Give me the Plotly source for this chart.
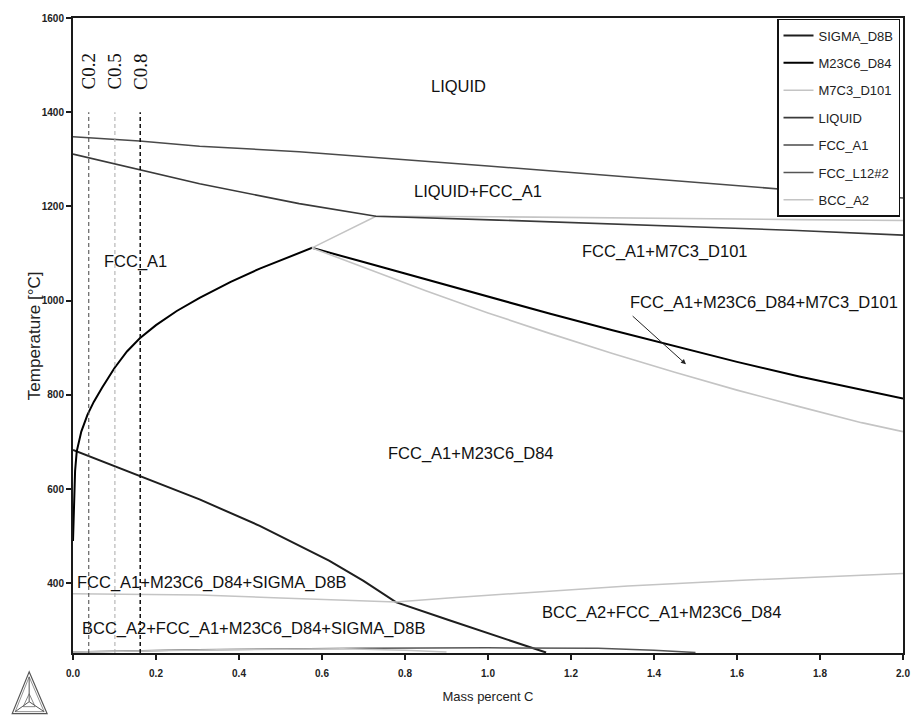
import plotly.graph_objects as go

# ---- Phase boundaries: mass percent C vs temperature (°C) ----
# FCC_A1 appearing from the liquid (upper liquidus)
fcc_x = [0.0, 0.16, 0.305, 0.545, 1.0, 1.5, 1.745, 2.0]
fcc_T = [1348, 1339, 1328, 1316, 1286, 1251, 1234, 1218]

# Liquid disappearing (solidus and its continuation)
liquid_x = [0.0, 0.16, 0.305, 0.545, 0.73, 1.025, 1.5, 1.745, 2.0]
liquid_T = [1311, 1278, 1248, 1206, 1179, 1171, 1157, 1149, 1139]

# M7C3 boundaries: lower solvus from the right, up to the peak, then the upper branch
m7c3_x = [2.0, 1.9, 1.75, 1.6, 1.45, 1.3, 1.15, 1.0, 0.85, 0.7, 0.576,
          0.73, 1.025, 1.745, 2.0]
m7c3_T = [722, 741, 775, 810, 848, 888, 930, 974, 1021, 1070, 1112,
          1179, 1178, 1172, 1170]

# M23C6 solvus curve and its high-carbon branch
m23c6_x = [0.0, 0.002, 0.005, 0.009, 0.02, 0.035, 0.05, 0.07, 0.1, 0.13,
           0.161, 0.2, 0.25, 0.305, 0.38, 0.45, 0.52, 0.576,
           0.7, 0.85, 1.0, 1.15, 1.3, 1.45, 1.6, 1.75, 1.9, 2.0]
m23c6_T = [490, 570, 638, 680, 722, 758, 785, 815, 857, 892,
           920, 948, 978, 1006, 1040, 1068, 1092, 1112,
           1082, 1045, 1008, 972, 937, 903, 870, 839, 811, 792]

# Sigma phase boundary
sigma_x = [0.0, 0.15, 0.305, 0.45, 0.55, 0.617, 0.7, 0.778, 0.905, 0.977, 1.14]
sigma_T = [683, 632, 578, 522, 478, 448, 405, 360, 322, 301, 253]

# BCC_A2 boundary
bcc_x = [0.0, 0.305, 0.5, 0.778, 0.905, 1.1, 1.337, 1.6, 2.0]
bcc_T = [378, 375, 369, 360, 369, 380, 394, 406, 421]
bcc_low_x = [0.0, 0.35, 0.65, 0.8, 0.9]
bcc_low_T = [254, 259, 261, 258, 254]

# FCC_L12#2 boundary near the bottom of the range
l12_x = [0.0, 0.3, 0.7, 1.0, 1.265, 1.4, 1.5]
l12_T = [254, 259, 262, 263, 262, 258, 253]

# Alloy compositions marked by vertical dashed lines
alloy_x = [0.038, 0.101, 0.162]
alloy_labels = ["C0.2", "C0.5", "C0.8"]
alloy_T_top = 1400
alloy_label_T = 1486

# Phase-region labels
region_labels = ["LIQUID", "LIQUID+FCC_A1", "FCC_A1", "FCC_A1+M7C3_D101",
                 "FCC_A1+M23C6_D84+M7C3_D101", "FCC_A1+M23C6_D84",
                 "FCC_A1+M23C6_D84+SIGMA_D8B", "BCC_A2+FCC_A1+M23C6_D84+SIGMA_D8B",
                 "BCC_A2+FCC_A1+M23C6_D84"]
region_x = [0.929, 0.975, 0.151, 1.426, 1.666, 0.96, 0.334, 0.435, 1.417]
region_T = [1455, 1232, 1084, 1105, 996, 676, 402, 303, 339]

# Arrow pointing into the narrow three-phase field
arrow_tail = (1.345, 970)
arrow_head = (1.477, 865)

T_MIN, T_MAX = 252, 1600
X_MIN, X_MAX = 0.0, 2.0

SANS = "Liberation Sans, Arial, sans-serif"

fig = go.Figure()

def add_phase(name, xs, ys, color, width, rank):
    fig.add_trace(go.Scatter(
        x=xs, y=ys, mode="lines", name=name,
        line=dict(color=color, width=width),
        legendgroup=name, legendrank=rank, hoverinfo="skip"))

add_phase("SIGMA_D8B", sigma_x, sigma_T, "#1e1e1e", 2, 1)
add_phase("M23C6_D84", m23c6_x, m23c6_T, "#000000", 2, 2)
add_phase("M7C3_D101", m7c3_x, m7c3_T, "#c4c4c4", 1.6, 3)
add_phase("LIQUID", liquid_x, liquid_T, "#3a3a3a", 1.6, 4)
add_phase("FCC_A1", fcc_x, fcc_T, "#4a4a4a", 1.5, 5)
add_phase("FCC_L12#2", l12_x, l12_T, "#555555", 1.5, 6)
add_phase("BCC_A2", bcc_x + [None] + bcc_low_x, bcc_T + [None] + bcc_low_T,
          "#c4c4c4", 1.5, 7)

# Vertical composition lines
dash_colors = ["#444444", "#aaaaaa", "#111111"]
dash_widths = [1, 1, 1.5]
for cx, col, w in zip(alloy_x, dash_colors, dash_widths):
    fig.add_trace(go.Scatter(
        x=[cx, cx], y=[T_MIN, alloy_T_top], mode="lines", showlegend=False,
        line=dict(color=col, width=w, dash="4px,3px"), hoverinfo="skip"))

annotations = []
for cx, lab in zip(alloy_x, alloy_labels):
    annotations.append(dict(
        x=cx, y=alloy_label_T, xref="x", yref="y", text=lab, showarrow=False,
        textangle=-90, font=dict(family="Liberation Serif, Times New Roman, serif",
                                 size=19, color="#111")))

for lab, rx, ry in zip(region_labels, region_x, region_T):
    annotations.append(dict(
        x=rx, y=ry, xref="x", yref="y", text=lab, showarrow=False,
        font=dict(family=SANS, size=16.5, color="#111")))

annotations.append(dict(
    x=arrow_head[0], y=arrow_head[1], ax=arrow_tail[0], ay=arrow_tail[1],
    xref="x", yref="y", axref="x", ayref="y", text="", showarrow=True,
    arrowhead=2, arrowsize=1, arrowwidth=1, arrowcolor="#222"))

# Plot-area pixel box, used to place decorations in paper coordinates
L, R, T, B = 73, 906, 14, 653

def pp(px, py):
    return (px - L) / (R - L), (B - py) / (B - T)

# Vertical axis title
ty = pp(35, 334)
annotations.append(dict(
    x=ty[0], y=ty[1], xref="paper", yref="paper", text="Temperature [°C]",
    showarrow=False, textangle=-90, xanchor="center", yanchor="middle",
    font=dict(family=SANS, size=17, color="#222")))

# Thermo-Calc style triangle mark in the lower-left corner
def tri_path(pts):
    coords = [pp(*p) for p in pts]
    s = "M {} {}".format(*coords[0])
    for c in coords[1:]:
        s += " L {} {}".format(*c)
    return s + " Z"

shapes = []
apex, bl, br = (29, 672), (12, 714), (47, 714)
cen = (29, 702)
shapes.append(dict(type="path", xref="paper", yref="paper",
                   path=tri_path([apex, bl, br]), line=dict(color="#555", width=1.2)))
shapes.append(dict(type="path", xref="paper", yref="paper",
                   path=tri_path([(29, 677), (15, 712), (44, 712)]),
                   line=dict(color="#777", width=0.8)))
for v in [(29, 677), (15, 712), (44, 712)]:
    a, b = pp(*cen), pp(*v)
    shapes.append(dict(type="line", xref="paper", yref="paper",
                       x0=a[0], y0=a[1], x1=b[0], y1=b[1],
                       line=dict(color="#555", width=1)))
shapes.append(dict(type="path", xref="paper", yref="paper",
                   path=tri_path([(29, 694), (23, 707), (35, 707)]),
                   line=dict(color="#666", width=0.8)))

fig.update_layout(
    width=922, height=715,
    margin=dict(l=73, r=16, t=14, b=62),
    paper_bgcolor="white", plot_bgcolor="white",
    showlegend=True,
    legend=dict(x=(903 - L) / (R - L), y=(B - 15) / (B - T),
                xanchor="right", yanchor="top",
                bgcolor="white", bordercolor="#111", borderwidth=1.5,
                font=dict(family=SANS, size=13, color="#222"),
                tracegroupgap=7.5, itemwidth=30),
    annotations=annotations,
    shapes=shapes,
)

fig.update_xaxes(
    range=[X_MIN, X_MAX], tickmode="linear", tick0=0, dtick=0.2, tickformat=".1f",
    showgrid=False, zeroline=False, showline=True, mirror=True,
    linecolor="#1a1a1a", linewidth=2, ticks="outside", ticklen=5, tickwidth=1.5,
    tickcolor="#1a1a1a", ticklabelstandoff=5,
    tickfont=dict(family=SANS, size=10, color="#222", weight="bold"),
    title=dict(text="Mass percent C", font=dict(family=SANS, size=13, color="#222"),
               standoff=14))

fig.update_yaxes(
    range=[T_MIN, T_MAX], tickmode="array", tickvals=[400, 600, 800, 1000, 1200, 1400, 1600],
    showgrid=False, zeroline=False, showline=True, mirror=True,
    linecolor="#1a1a1a", linewidth=2, ticks="outside", ticklen=5, tickwidth=1.5,
    tickcolor="#1a1a1a",
    tickfont=dict(family=SANS, size=10, color="#222", weight="bold"))

fig.write_html("out.html")
